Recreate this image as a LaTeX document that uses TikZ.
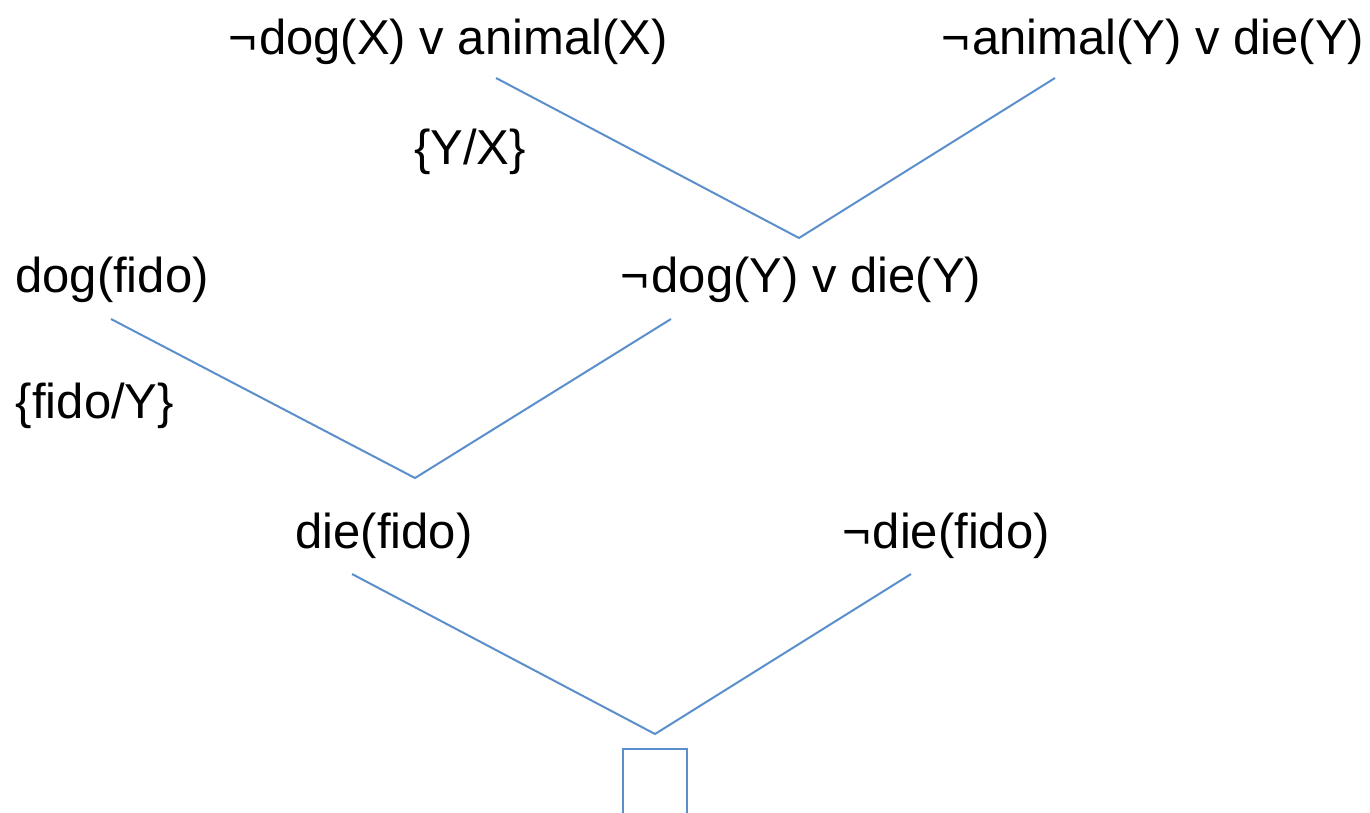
\documentclass[tikz,border=0pt]{standalone}
\usepackage{fontspec}
\setmainfont{Liberation Sans}
\newcommand{\negsign}{¬\kern2pt}
\begin{document}
\begin{tikzpicture}[x=1pt,y=-1pt,
  clause/.style={inner sep=0pt,anchor=base,font=\fontsize{49}{57}\selectfont},
  subst/.style={clause},
  edge/.style={draw=edgeblue,line width=2pt,line join=miter}]
\definecolor{edgeblue}{HTML}{5B8FCB}
\useasboundingbox (0,0) rectangle (1370,813);
\clip (0,0) rectangle (1370,813);

% clauses and substitutions
\node[clause] (c1) at (448,55) {\negsign dog(X) v animal(X)};
\node[clause] (c2) at (1153,55) {\negsign animal(Y) v die(Y)};
\node[subst]  (s1) at (470,165) {\{Y/X\}};
\node[clause] (c3) at (112,292) {dog(fido)};
\node[clause] (c4) at (801,292) {\negsign dog(Y) v die(Y)};
\node[subst]  (s2) at (95,418) {\{fido/Y\}};
\node[clause] (c5) at (384,548) {die(fido)};
\node[clause] (c6) at (946,548) {\negsign die(fido)};

% resolution step end points
\coordinate (c1e) at (496,78);
\coordinate (c2e) at (1055,78);
\coordinate (r1)  at (799,238);
\coordinate (c3e) at (111,319);
\coordinate (c4e) at (671,319);
\coordinate (r2)  at (415,478);
\coordinate (c5e) at (352,574);
\coordinate (c6e) at (911,574);
\coordinate (r3)  at (655,734);

\draw[edge] (c1e) -- (r1) -- (c2e);
\draw[edge] (c3e) -- (r2) -- (c4e);
\draw[edge] (c5e) -- (r3) -- (c6e);

% empty clause
\draw[edge] (623,820) -- (623,749) -- (687,749) -- (687,820);
\end{tikzpicture}
\end{document}
